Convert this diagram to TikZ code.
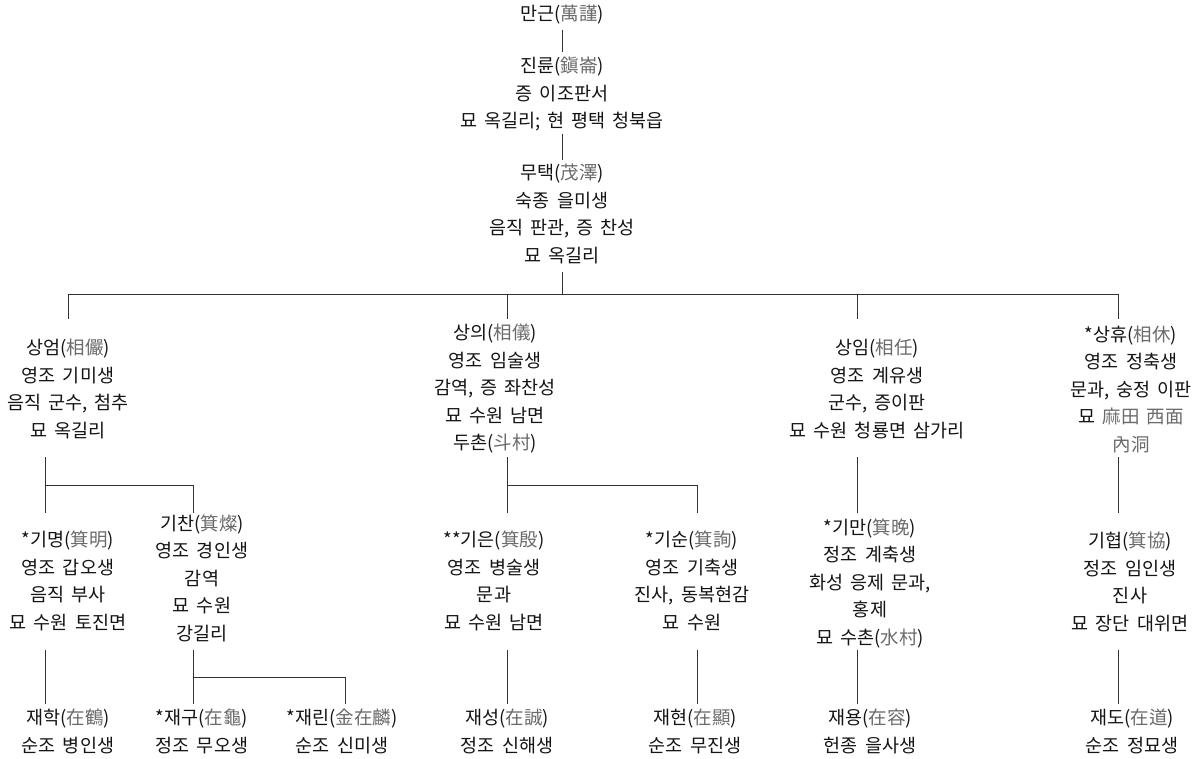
\documentclass[tikz,border=0pt]{standalone}
\usepackage{fontspec}
\setmainfont{Noto Sans CJK KR}[WordSpace=1.7]
\newfontfamily\hanjafont{Noto Sans CJK KR}[WordSpace=1.7]
\definecolor{hjgray}{gray}{0.42}
\definecolor{txt}{gray}{0.08}
\definecolor{ln}{gray}{0.2}
\newcommand{\hj}[1]{{\color{hjgray}\hanjafont #1}}
\begin{document}
\begin{tikzpicture}[x=1pt,y=-1pt,
  person/.style={align=center, inner sep=0pt, text=txt, font=\fontsize{18.5}{27.5}\selectfont},
  link/.style={draw=ln, line width=0.8pt}]
\useasboundingbox[fill=white] (0,0) rectangle (1202,759);

% generation 0-2
\node[person] (n0) at (562,15) {만근(\hj{萬謹})};
\node[person] (n1) at (562,94) {진륜(\hj{鎭崙})\\증 이조판서\\묘 옥길리; 현 평택 청북읍};
\node[person] (n2) at (562,214) {무택(\hj{茂澤})\\숙종 을미생\\음직 판관, 증 찬성\\묘 옥길리};

% generation 3
\node[person] (a) at (68,389) {상엄(\hj{相儼})\\영조 기미생\\음직 군수, 첨추\\묘 옥길리};
\node[person] (b) at (495,389) {상의(\hj{相儀})\\영조 임술생\\감역, 증 좌찬성\\묘 수원 남면\\두촌(\hj{斗村})};
\node[person] (c) at (877,389) {상임(\hj{相任})\\영조 계유생\\군수, 증이판\\묘 수원 청룡면 삼가리};
\node[person] (d) at (1131,389) {*상휴(\hj{相休})\\영조 정축생\\문과, 숭정 이판\\묘 \hj{麻田 西面}\\\hj{內洞}};

% generation 4
\node[person] (a1) at (68,581) {*기명(\hj{箕明})\\영조 갑오생\\음직 부사\\묘 수원 토진면};
\node[person] (a2) at (202,578) {기찬(\hj{箕燦})\\영조 경인생\\감역\\묘 수원\\강길리};
\node[person] (b1) at (494,581) {**기은(\hj{箕殷})\\영조 병술생\\문과\\묘 수원 남면};
\node[person] (b2) at (692,581) {*기순(\hj{箕詢})\\영조 기축생\\진사, 동복현감\\묘 수원};
\node[person] (c1) at (870,583) {*기만(\hj{箕晩})\\정조 계축생\\화성 응제 문과,\\홍제\\묘 수촌(\hj{水村})};
\node[person] (d1) at (1130,582) {기협(\hj{箕協})\\정조 임인생\\진사\\묘 장단 대위면};

% generation 5
\node[person] (a11) at (68,731.5) {재학(\hj{在鶴})\\순조 병인생};
\node[person] (a21) at (202,731.5) {*재구(\hj{在龜})\\정조 무오생};
\node[person] (a22) at (342,731.5) {*재린(\hj{金在麟})\\순조 신미생};
\node[person] (b11) at (507,731.5) {재성(\hj{在誠})\\정조 신해생};
\node[person] (b21) at (695,731.5) {재현(\hj{在顯})\\순조 무진생};
\node[person] (c11) at (870,731.5) {재용(\hj{在容})\\헌종 을사생};
\node[person] (d11) at (1132,731.5) {재도(\hj{在道})\\순조 정묘생};

% connector points
\coordinate (r0) at (562,30);  \coordinate (r1) at (562,52);
\coordinate (r2) at (562,134); \coordinate (r3) at (562,160);
\coordinate (r4) at (562,272); \coordinate (bus) at (562,294);
\coordinate (ba) at (68,294);  \coordinate (ta) at (68,319);
\coordinate (tb) at (507,319); \coordinate (tc) at (857,319);
\coordinate (bd) at (1118,294); \coordinate (td) at (1118,319);
% below generation 3
\coordinate (sa) at (45,457);  \coordinate (ja) at (45,485);
\coordinate (ua1) at (45,513); \coordinate (ua2) at (193,513);
\coordinate (sb) at (507,457); \coordinate (jb) at (507,485);
\coordinate (ub1) at (507,513); \coordinate (ub2) at (697,513);
\coordinate (sc) at (857,457); \coordinate (uc1) at (857,513);
\coordinate (sd) at (1118,457); \coordinate (ud1) at (1118,513);
% below generation 4
\coordinate (va1) at (45,650);  \coordinate (wa1) at (45,704);
\coordinate (va2) at (193,650); \coordinate (ja2) at (193,677);
\coordinate (wa21) at (193,704); \coordinate (wa22) at (345,704);
\coordinate (vb1) at (507,650); \coordinate (wb1) at (507,704);
\coordinate (vb2) at (697,650); \coordinate (wb2) at (697,704);
\coordinate (vc1) at (857,650); \coordinate (wc1) at (857,704);
\coordinate (vd1) at (1118,650); \coordinate (wd1) at (1118,704);

\draw[link] (r0) -- (r1);
\draw[link] (r2) -- (r3);
\draw[link] (r4) -- (bus);
\draw[link] (ta) -- (ba) -- (bd) -- (td);
\draw[link] (tb |- bus) -- (tb);
\draw[link] (tc |- bus) -- (tc);

\draw[link] (sa) -- (ua1);
\draw[link] (ja) -| (ua2);
\draw[link] (sb) -- (ub1);
\draw[link] (jb) -| (ub2);
\draw[link] (sc) -- (uc1);
\draw[link] (sd) -- (ud1);

\draw[link] (va1) -- (wa1);
\draw[link] (va2) -- (wa21);
\draw[link] (ja2) -| (wa22);
\draw[link] (vb1) -- (wb1);
\draw[link] (vb2) -- (wb2);
\draw[link] (vc1) -- (wc1);
\draw[link] (vd1) -- (wd1);
\end{tikzpicture}
\end{document}
